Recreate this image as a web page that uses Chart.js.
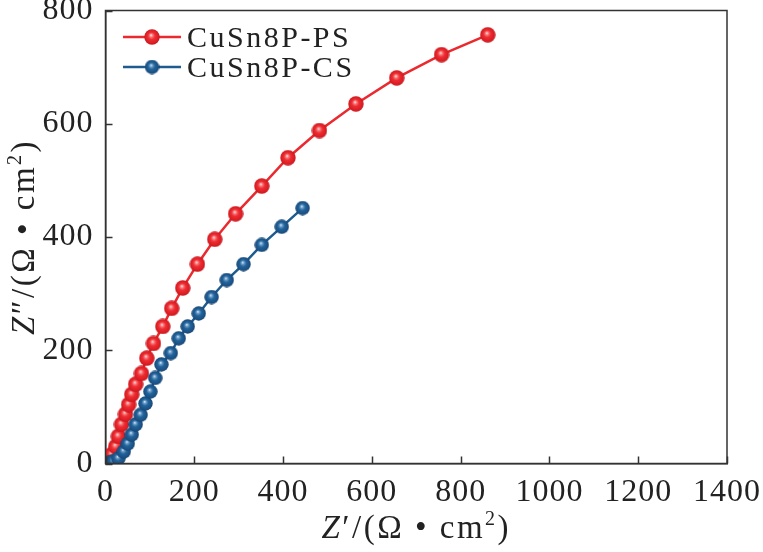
<!DOCTYPE html>
<html>
<head>
<meta charset="utf-8">
<script src="https://cdn.jsdelivr.net/npm/chart.js@4.4.1/dist/chart.umd.min.js"></script>
<style>
  html, body { margin: 0; padding: 0; background: #ffffff; }
  #wrap { width: 763px; height: 552px; position: relative; }
</style>
</head>
<body>
<div id="wrap"><canvas id="c"></canvas></div>
<script>
// ---- data ----
const seriesNames = ['CuSn8P-PS', 'CuSn8P-CS'];
const psX = [0, 3, 7, 14, 23, 29, 36, 45, 52, 59, 68, 81, 93, 108, 129, 149, 174, 207, 246, 293, 352, 411, 482, 564, 656, 757, 861];
const psY = [0, 2, 7, 16, 30, 48, 69, 87, 104, 122, 140, 159, 186, 212, 242, 274, 310, 352, 396, 441, 490, 540, 588, 635, 681, 722, 757];
const csX = [0, 7, 18, 29, 41, 50, 59, 68, 79, 90, 101, 112, 126, 147, 165, 185, 210, 239, 273, 311, 352, 397, 444];
const csY = [0, 1, 4, 9, 21, 35, 51, 69, 86, 106, 127, 151, 175, 195, 221, 242, 265, 294, 324, 352, 386, 418, 451];
const xTicks = [0, 200, 400, 600, 800, 1000, 1200, 1400];
const yTicks = [0, 200, 400, 600, 800];
const xTitle = [{t: 'Z', it: true}, {t: '′/(Ω • cm'}, {t: '2', sup: true}, {t: ')'}];
const yTitle = [{t: 'Z', it: true}, {t: '″/(Ω • cm'}, {t: '2', sup: true}, {t: ')'}];

const RED = '#ea2a2f';
const BLUE = '#1e5c90';
const SERIF = "'Liberation Serif', 'Times New Roman', Times, serif";

function sphere(size, stops) {
  const c = document.createElement('canvas');
  c.width = size; c.height = size;
  const g = c.getContext('2d');
  const r = size / 2;
  const grad = g.createRadialGradient(size * 0.44, size * 0.38, 0, r, r, r);
  stops.forEach(s => grad.addColorStop(s[0], s[1]));
  g.beginPath();
  g.arc(r, r, r - 0.3, 0, Math.PI * 2);
  g.fillStyle = grad;
  g.fill();
  return c;
}
const redBall = sphere(16, [[0, '#fff2f2'], [0.2, '#f77a7a'], [0.45, '#ee2d33'], [0.85, '#d91c22'], [1, '#b3151a']]);
const blueBall = sphere(15, [[0, '#e8f1fa'], [0.2, '#6a9cc8'], [0.45, '#22639a'], [0.85, '#1a4f82'], [1, '#113a62']]);

const toPts = (xs, ys) => xs.map((x, i) => ({x: x, y: ys[i]}));

const X0 = 105.5, X1 = 727, Y0 = 463.5, Y1 = 9.5;

function drawRich(ctx, parts, size) {
  const fonts = parts.map(p => (p.it ? 'italic ' : '') + (p.sup ? Math.round(size * 0.6) : size) + 'px ' + SERIF);
  let total = 0;
  const widths = parts.map((p, i) => { ctx.font = fonts[i]; const w = ctx.measureText(p.t).width; total += w; return w; });
  let x = -total / 2;
  parts.forEach((p, i) => {
    ctx.font = fonts[i];
    ctx.fillText(p.t, x, p.sup ? -size * 0.38 : 0);
    x += widths[i];
  });
}

const decor = {
  id: 'decor',
  beforeDraw(chart) {
    chart.ctx.letterSpacing = '1px';
  },
  afterDraw(chart) {
    const ctx = chart.ctx;
    const a = chart.chartArea;
    const xs = chart.scales.x, ys = chart.scales.y;
    ctx.save();
    ctx.letterSpacing = '0px';
    ctx.strokeStyle = '#333333';
    ctx.lineWidth = 1.5;
    ctx.strokeRect(a.left, a.top, a.right - a.left, a.bottom - a.top);
    // inward ticks
    ctx.beginPath();
    xTicks.forEach(v => {
      const px = Math.round(xs.getPixelForValue(v)) + 0.5;
      ctx.moveTo(px, a.bottom); ctx.lineTo(px, a.bottom - 7);
    });
    yTicks.forEach(v => {
      const py = Math.round(ys.getPixelForValue(v)) + 0.5;
      ctx.moveTo(a.left, py); ctx.lineTo(a.left + 7, py);
    });
    ctx.stroke();

    // legend
    const rows = [{name: seriesNames[0], color: RED, ball: redBall, y: 37},
                  {name: seriesNames[1], color: BLUE, ball: blueBall, y: 67}];
    rows.forEach(r => {
      ctx.strokeStyle = r.color;
      ctx.lineWidth = 2.5;
      ctx.beginPath();
      ctx.moveTo(123, r.y); ctx.lineTo(181, r.y);
      ctx.stroke();
      ctx.drawImage(r.ball, 152 - r.ball.width / 2, r.y - r.ball.height / 2);
      ctx.fillStyle = '#222222';
      ctx.font = '30px ' + SERIF;
      ctx.letterSpacing = '2.5px';
      ctx.textBaseline = 'alphabetic';
      ctx.textAlign = 'left';
      ctx.fillText(r.name, 187, r.y + 10);
      ctx.letterSpacing = '0px';
    });

    // axis titles
    ctx.fillStyle = '#222222';
    ctx.textAlign = 'left';
    ctx.textBaseline = 'alphabetic';
    ctx.letterSpacing = '2.5px';
    ctx.save();
    ctx.translate((a.left + a.right) / 2, 538);
    drawRich(ctx, xTitle, 33);
    ctx.restore();
    ctx.save();
    ctx.translate(34, (a.top + a.bottom) / 2);
    ctx.rotate(-Math.PI / 2);
    drawRich(ctx, yTitle, 33);
    ctx.restore();
    ctx.restore();
  }
};

new Chart(document.getElementById('c'), {
  type: 'line',
  data: {
    datasets: [
      {
        label: seriesNames[0],
        data: toPts(psX, psY),
        borderColor: RED,
        borderWidth: 2.5,
        pointStyle: redBall,
        pointRadius: 8,
        tension: 0,
        order: 1
      },
      {
        label: seriesNames[1],
        data: toPts(csX, csY),
        borderColor: BLUE,
        borderWidth: 2.5,
        pointStyle: blueBall,
        pointRadius: 7.5,
        tension: 0,
        order: 0
      }
    ]
  },
  options: {
    responsive: true,
    maintainAspectRatio: false,
    animation: false,
    events: [],
    layout: { padding: { top: Y1, right: 763 - X1, left: 0, bottom: 0 } },
    plugins: { legend: { display: false }, tooltip: { enabled: false }, title: { display: false } },
    scales: {
      x: {
        type: 'linear',
        min: 0, max: 1400,
        ticks: { stepSize: 200, color: '#222222', font: { family: SERIF, size: 32 }, padding: 10, maxRotation: 0, autoSkip: false,
                 callback: v => String(v) },
        grid: { display: false, drawTicks: false },
        border: { display: true, color: '#333333', width: 1.5 },
        afterFit(s) { s.height = 552 - Y0; s.paddingLeft = 0; s.paddingRight = 0; }
      },
      y: {
        type: 'linear',
        min: 0, max: 800,
        ticks: { stepSize: 200, color: '#222222', font: { family: SERIF, size: 32 }, padding: 12,
                 callback: v => String(v) },
        grid: { display: false, drawTicks: false },
        border: { display: true, color: '#333333', width: 1.5 },
        afterFit(s) { s.width = X0; s.paddingTop = 0; s.paddingBottom = 0; }
      }
    }
  },
  plugins: [decor]
});
</script>
</body>
</html>
